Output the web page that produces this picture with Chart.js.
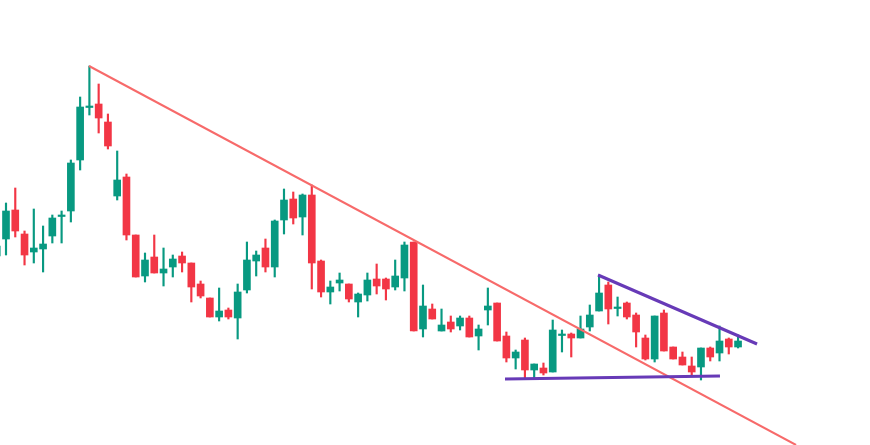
<!DOCTYPE html>
<html>
<head>
<meta charset="utf-8">
<script src="https://cdn.jsdelivr.net/npm/chart.js@4"></script>
<style>
  html, body { margin: 0; padding: 0; background: #fff; }
  #wrap { width: 870px; height: 445px; }
</style>
</head>
<body>
<div id="wrap"><canvas id="candles"></canvas></div>
<script>
// price levels (scale grows downward, like screen y)
const opens  = [256,239,210,234,252,249,236,215,211,160,106,104,122,196,177,235,276,257,273,267,256,263,284,298,317,310,318,290,261,248,267,220,199,217,195,261,292,283,284,302,295,279,279,287,278,242,329,309,331,322,326,318,336,310,303,336,358,340,370,368,372,334,334,338,327,311,285,307,303,315,338,359,313,347,357,366,367,348,353,339,347];
const highs  = [242,203,188,231,209,226,215,211,160,97,66,84,114,151,174,235,253,235,248,255,252,263,281,298,288,308,284,242,251,239,220,189,192,194,185,260,281,273,284,293,273,264,278,260,242,242,285,304,309,316,316,316,325,288,303,332,350,338,364,363,320,330,333,316,305,275,282,297,302,313,335,316,310,347,352,357,348,347,326,338,335];
const lows   = [258,255,237,265,263,272,243,243,222,170,115,133,149,200,240,277,282,273,286,277,272,302,298,317,321,319,339,293,276,272,277,234,224,235,289,297,304,291,302,317,301,294,300,290,291,331,337,319,331,332,330,337,350,325,341,362,369,379,378,375,372,352,357,338,331,311,324,316,319,347,360,362,351,359,365,376,380,361,361,354,348];
const closes = [246,211,231,255,248,244,218,215,163,107,106,118,146,180,235,277,260,273,269,259,263,287,296,317,311,317,292,260,255,267,221,200,218,195,263,292,287,280,299,294,280,286,289,276,245,331,306,319,325,329,318,337,329,306,341,358,352,370,364,373,330,334,338,329,315,293,309,307,317,332,359,316,351,359,365,372,348,357,341,347,341];

// trend lines: [index, level]
const resistLong  = [[9.96, 66], [86.26, 445]];
const resistShort = [[64.89, 275], [82.05, 344]];
const supportFlat = [[54.85, 379], [78.05, 376]];

const up = "#089981", down = "#f23645";
const idx = opens.map((_, i) => i);
const isUp = idx.map(i => closes[i] <= opens[i]);
const colors = idx.map(i => isUp[i] ? up : down);

const bodies = idx.map(i => {
  let a = Math.min(opens[i], closes[i]), b = Math.max(opens[i], closes[i]);
  if (b - a < 1.5) b = a + 1.5;
  return { x: i, y: [a, b] };
});
const wicks = idx.map(i => ({ x: i, y: [highs[i], lows[i]] }));
const pts = arr => arr.map(p => ({ x: p[0], y: p[1] }));

new Chart(document.getElementById("candles"), {
  data: {
    datasets: [
      { type: "bar", data: wicks, backgroundColor: colors, barThickness: 1.5, grouped: false, order: 3 },
      { type: "bar", data: bodies, backgroundColor: colors, barThickness: 7, grouped: false, order: 2 },
      { type: "line", data: pts(resistLong), borderColor: "#f76a6a", borderWidth: 2, pointRadius: 0, order: 1 },
      { type: "line", data: pts(resistShort), borderColor: "#673ab7", borderWidth: 3, pointRadius: 0, order: 0 },
      { type: "line", data: pts(supportFlat), borderColor: "#673ab7", borderWidth: 3, pointRadius: 0, order: 0 }
    ]
  },
  options: {
    responsive: true,
    maintainAspectRatio: false,
    animation: false,
    layout: { padding: 0 },
    plugins: { legend: { display: false }, tooltip: { enabled: false } },
    scales: {
      x: { type: "linear", min: 0.3525, max: 94.24, offset: false, display: false },
      y: { min: 0, max: 445, reverse: true, display: false }
    }
  }
});
</script>
</body>
</html>
